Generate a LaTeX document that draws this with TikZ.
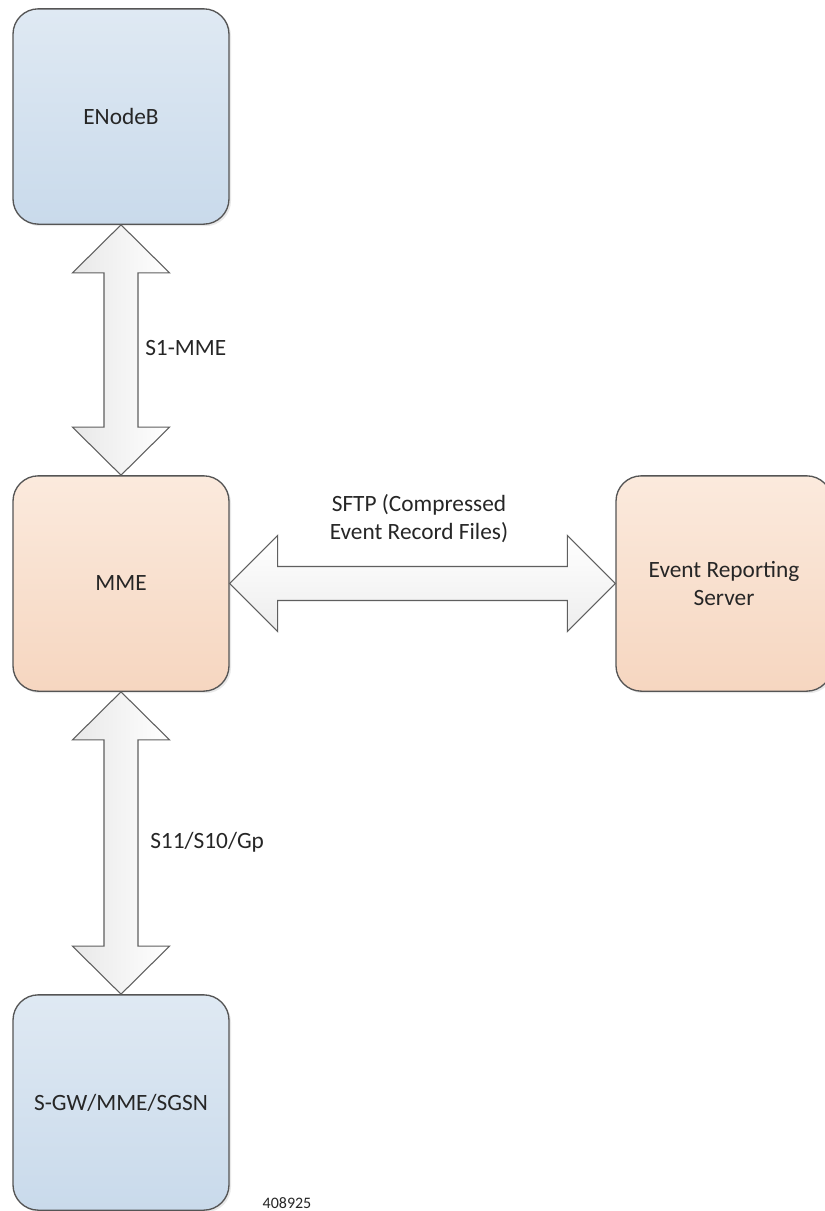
\documentclass[tikz,border=0pt]{standalone}
\usepackage{fontspec}
\setmainfont{Carlito}
\usetikzlibrary{calc,shadows}
\definecolor{blueTop}{RGB}{223,233,243}
\definecolor{blueBot}{RGB}{201,218,235}
\definecolor{orTop}{RGB}{251,234,221}
\definecolor{orBot}{RGB}{246,214,192}
\definecolor{edge}{RGB}{85,85,85}
\definecolor{arredge}{RGB}{95,95,95}
\definecolor{txt}{RGB}{38,38,38}
\tikzset{
  box/.style={draw=edge, line width=1pt, rounded corners=19pt,
    minimum width=162pt, minimum height=161.5pt, inner sep=0pt,
    text=txt, font=\fontsize{17.5}{21}\selectfont, align=center,
    drop shadow={opacity=0.18, shadow xshift=1.5pt, shadow yshift=-1.5pt}},
  bluebox/.style={box, top color=blueTop, bottom color=blueBot},
  orbox/.style={box, top color=orTop, bottom color=orBot},
  vdbl/.style={draw=arredge, line width=0.8pt, line join=miter,
    left color=black!9, right color=white},
  hdbl/.style={draw=arredge, line width=0.8pt, line join=miter,
    top color=white, bottom color=black!7},
  lbl/.style={text=txt, font=\fontsize{17.5}{21}\selectfont, inner sep=0pt},
}
\begin{document}
\begin{tikzpicture}[x=0.75pt, y=-0.75pt]
\useasboundingbox (0,0) rectangle (825,1211);
\clip (0,0) rectangle (825,1211);
\fill[white] (0,0) rectangle (825,1211);

\node[bluebox] (enb) at (121,116.5) {\raisebox{-3.5pt}{ENodeB}};
\node[orbox]   (mme) at (121,583.5) {MME};
\node[bluebox] (sgw) at (121,1102.5) {S-GW/MME/SGSN};
\node[orbox]   (ers) at (724,583.5) {Event Reporting\\Server};

% S1-MME double arrow
\draw[vdbl] (enb.south) -- ++(48.5,48) -- ++(-31.5,0)
  -- ($(mme.north)+(17,-48)$) -- ++(31.5,0) -- (mme.north)
  -- ++(-48.5,-48) -- ++(31.5,0)
  -- ($(enb.south)+(-17,48)$) -- ++(-31.5,0) -- cycle;

% S11/S10/Gp double arrow
\draw[vdbl] (mme.south) -- ++(48.5,48) -- ++(-31.5,0)
  -- ($(sgw.north)+(17,-48)$) -- ++(31.5,0) -- (sgw.north)
  -- ++(-48.5,-48) -- ++(31.5,0)
  -- ($(mme.south)+(-17,48)$) -- ++(-31.5,0) -- cycle;

% SFTP double arrow
\draw[hdbl] (mme.east) -- ++(48,-48) -- ++(0,31)
  -- ($(ers.west)+(-48,-17)$) -- ++(0,-31) -- (ers.west)
  -- ++(-48,48) -- ++(0,-31)
  -- ($(mme.east)+(48,17)$) -- ++(0,31) -- cycle;

\node[lbl, anchor=west] (l1) at (145,348) {S1-MME};
\node[lbl, anchor=west] (l2) at (150,842) {S11/S10/Gp};
\node[lbl, align=center] (l3) at (419,519) {SFTP (Compressed\\Event Record Files)};
\node[text=txt, font=\fontsize{12}{14}\selectfont, inner sep=0pt] (num) at (287,1203) {408925};
\end{tikzpicture}
\end{document}
